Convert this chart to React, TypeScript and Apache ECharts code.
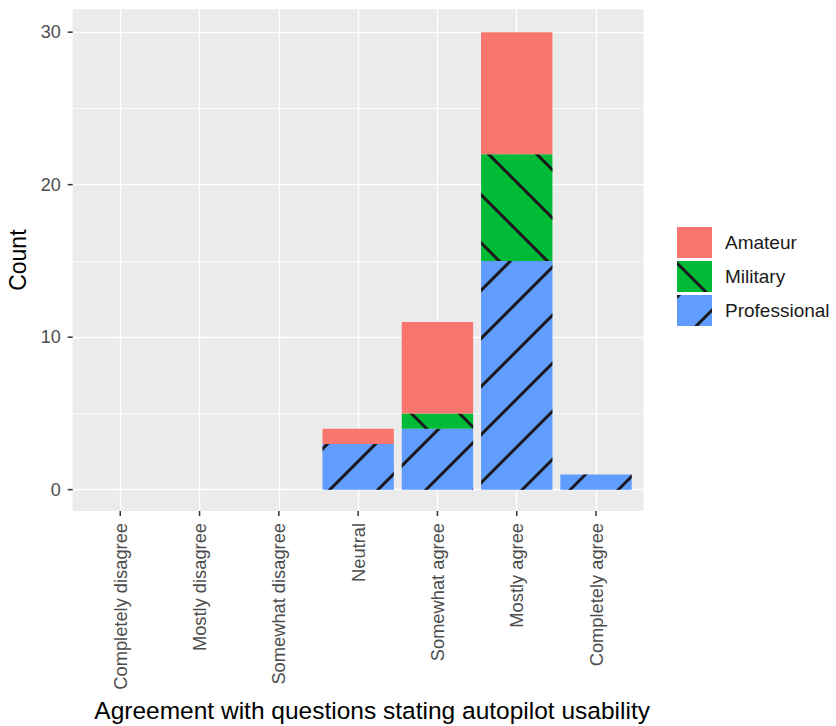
import React, { useEffect, useRef } from 'react';
import * as echarts from 'echarts';

// ---- data ----
const categories = [
  'Completely disagree',
  'Mostly disagree',
  'Somewhat disagree',
  'Neutral',
  'Somewhat agree',
  'Mostly agree',
  'Completely agree',
];
const professional = [0, 0, 0, 3, 4, 15, 1];
const military = [0, 0, 0, 0, 1, 7, 0];
const amateur = [0, 0, 0, 1, 6, 8, 0];
const yTicks = [0, 10, 20, 30];
const yMinorTicks = [5, 15, 25];
const yRange = [-1.4, 31.5];
const xTitle = 'Agreement with questions stating autopilot usability';
const yTitle = 'Count';
const legendOrder = ['Amateur', 'Military', 'Professional'];

// ---- layout / style ----
const FONT = '"Liberation Sans", Arial, Helvetica, sans-serif';
const PL = 72.7;
const PR = 643.6;
const PT = 9.3;
const PB = 511;
const PW = PR - PL;
const PH = PB - PT;
const X_MIN = -0.6;
const X_MAX = categories.length - 1 + 0.6;
const BAND = PW / (X_MAX - X_MIN);
const TICK_COLOR = '#333333';
const TICK_LEN = 5;
const TICK_W = 1.5;

const profDecal = {
  symbol: 'rect',
  symbolSize: 1,
  dashArrayX: [1, 0],
  dashArrayY: [2.4, 31],
  rotation: -Math.PI / 4,
  color: '#1a1a1a',
};
const milDecal = { ...profDecal, rotation: Math.PI / 4 };

export default function App() {
  const ref = useRef<HTMLDivElement>(null);
  useEffect(() => {
    if (!ref.current) return;
    const chart = echarts.init(ref.current, null, { renderer: 'svg' });
    const option: any = {
      animation: false,
      backgroundColor: '#ffffff',
      textStyle: { fontFamily: FONT },
      grid: [
        {
          left: PL, top: PT, width: PW, height: PH,
          show: true, backgroundColor: '#EBEBEB', borderWidth: 0,
          containLabel: false, outerBoundsMode: 'none',
        },
        {
          left: PL + 0.1 * BAND, top: PT, width: BAND * categories.length, height: PH,
          show: false, containLabel: false, outerBoundsMode: 'none',
        },
      ],
      xAxis: [
        {
          type: 'value', gridIndex: 0, position: 'bottom',
          min: X_MIN, max: X_MAX, splitNumber: 7,
          axisLine: { show: false, onZero: false }, axisTick: { show: false }, axisLabel: { show: false },
          splitLine: { show: true, showMinLine: false, showMaxLine: false, lineStyle: { color: '#ffffff', width: 1.4 } },
          name: xTitle, nameLocation: 'middle', nameGap: 187,
          nameTextStyle: { fontSize: 24.5, color: '#000000', fontFamily: FONT, padding: [0, 0, 0, 28] },
        },
        {
          type: 'category', gridIndex: 1, data: categories, boundaryGap: true, position: 'bottom',
          axisLine: { show: false, onZero: false },
          axisTick: { show: false },
          axisLabel: { show: true, interval: 0, rotate: 90, margin: 12, color: '#4D4D4D', fontSize: 18.3, fontFamily: FONT },
          splitLine: { show: false },
        },
      ],
      yAxis: [
        {
          type: 'value', gridIndex: 0, position: 'left', min: yRange[0], max: yRange[1], splitNumber: 3,
          axisLine: { show: false, onZero: false },
          axisTick: { show: false },
          axisLabel: {
            customValues: yTicks, color: '#4D4D4D', fontSize: 18, margin: 12, fontFamily: FONT,
            formatter: (v: number) => (yTicks.includes(v) ? String(v) : ''),
          },
          splitLine: { show: true, showMinLine: false, showMaxLine: false, lineStyle: { color: '#ffffff', width: 1.4 } },
          name: yTitle, nameLocation: 'middle', nameGap: 24,
          nameTextStyle: { fontSize: 23, color: '#000000', fontFamily: FONT },
        },
        {
          type: 'value', gridIndex: 1, min: yRange[0], max: yRange[1], show: false,
          axisLine: { onZero: false },
        },
      ],
      legend: {
        orient: 'vertical', left: 677, top: 227, padding: 0,
        itemWidth: 35, itemHeight: 31, itemGap: 3, icon: 'rect',
        data: legendOrder, selectedMode: false,
        textStyle: { fontSize: 19, color: '#1a1a1a', fontFamily: FONT, padding: [0, 0, 0, 8] },
      },
      series: [
        {
          name: 'minor-grid', type: 'line', xAxisIndex: 0, yAxisIndex: 0, data: [], z: 1,
          markLine: {
            silent: true, symbol: 'none', z: 1, label: { show: false },
            lineStyle: { color: '#ffffff', width: 0.7, type: 'solid' },
            data: yMinorTicks.map((v) => ({ yAxis: v })),
          },
        },
        {
          name: 'Professional', type: 'bar', xAxisIndex: 1, yAxisIndex: 1, stack: 'total',
          data: professional, barWidth: '90%', z: 3,
          itemStyle: { color: '#619CFF', decal: profDecal },
        },
        {
          name: 'Military', type: 'bar', xAxisIndex: 1, yAxisIndex: 1, stack: 'total',
          data: military, barWidth: '90%', z: 3,
          itemStyle: { color: '#00BA38', decal: milDecal },
        },
        {
          name: 'Amateur', type: 'bar', xAxisIndex: 1, yAxisIndex: 1, stack: 'total',
          data: amateur, barWidth: '90%', z: 3,
          itemStyle: { color: '#F8766D' },
        },
      ],
    };
    chart.setOption(option);

    // tick marks placed through the axes' own scales
    const tickEls: any[] = [];
    yTicks.forEach((v) => {
      const y = chart.convertToPixel({ yAxisIndex: 0 } as any, v) as number;
      tickEls.push({
        type: 'line', silent: true, z: 10,
        shape: { x1: PL - TICK_LEN, y1: y, x2: PL, y2: y },
        style: { stroke: TICK_COLOR, lineWidth: TICK_W },
      });
    });
    categories.forEach((_c, i) => {
      const x = chart.convertToPixel({ xAxisIndex: 1 } as any, i) as number;
      tickEls.push({
        type: 'line', silent: true, z: 10,
        shape: { x1: x, y1: PB, x2: x, y2: PB + TICK_LEN },
        style: { stroke: TICK_COLOR, lineWidth: TICK_W },
      });
    });
    chart.setOption({ graphic: tickEls });

    return () => chart.dispose();
  }, []);
  return (
    <div
      ref={ref}
      style={{ position: 'fixed', left: 0, top: 0, width: 836, height: 726 }}
    />
  );
}
